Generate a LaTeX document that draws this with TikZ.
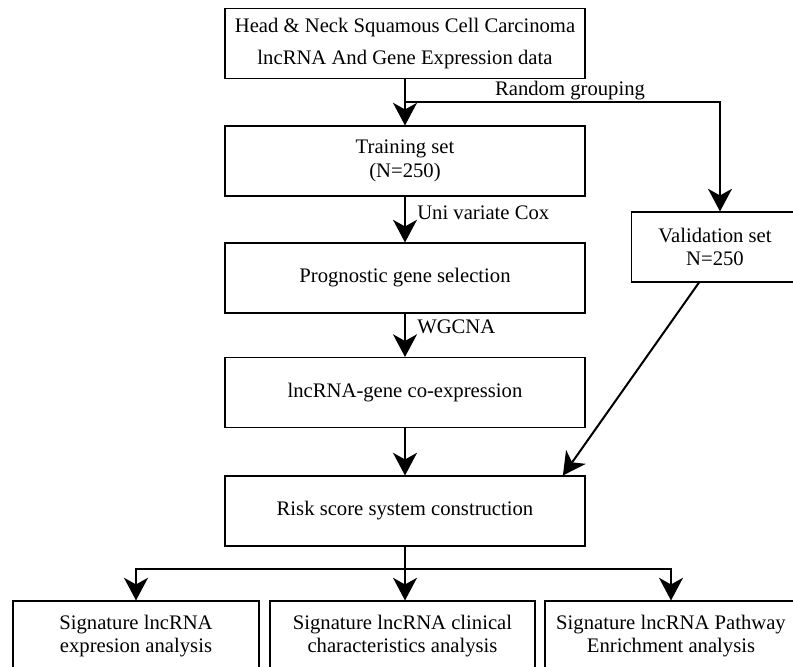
\documentclass[tikz,border=0pt]{standalone}
\usepackage{fontspec}
\setmainfont{Liberation Serif}
\usetikzlibrary{arrows.meta}

\begin{document}
\begin{tikzpicture}[x=0.75pt, y=-0.75pt,
    every node/.style={font=\fontsize{15.5}{17.5}\selectfont, align=center, inner sep=0pt},
    stage/.style={draw, line width=0.8pt, minimum width=270pt, minimum height=52.5pt},
    result/.style={draw, line width=0.8pt, minimum height=52.5pt},
    flow/.style={line width=1.5pt, -{Stealth[length=17pt, width=18pt, inset=5pt]}},
    plain/.style={line width=1.5pt}]
    \useasboundingbox (0,0) rectangle (793,667);
    \clip (0,0) rectangle (793,667);

    % Main column
    \node[stage] (data) at (405,43.5) {Head \& Neck Squamous Cell Carcinoma\\[6pt]lncRNA And Gene Expression data};
    \node[stage] (train) at (405,161) {Training set\\(N=250)};
    \node[stage] (prog) at (405,278) {Prognostic gene selection};
    \node[stage] (coexp) at (405,392.5) {lncRNA-gene co-expression};
    \node[stage] (risk) at (405,511) {Risk score system construction};

    % Validation branch
    \node[result, minimum width=125pt] (valid) at (715,247) {Validation set\\N=250};

    % Analyses of the signature
    \node[result, minimum width=184.5pt] (expr) at (136,636) {Signature lncRNA\\expresion analysis};
    \node[result, minimum width=198.75pt] (clin) at (402.5,636) {Signature lncRNA clinical\\characteristics analysis};
    \node[result, minimum width=189pt] (path) at (671,636) {Signature lncRNA Pathway\\Enrichment analysis};

    % Edge labels
    \node (grouping) at (570,91) {Random grouping};
    \node[anchor=west] (cox) at (417,213) {Uni variate Cox};
    \node[anchor=west] (wgcna) at (417,327) {WGCNA};

    % Connectors down the column
    \coordinate (split) at (405,102);
    \coordinate (turn) at (720,102);
    \draw[flow] (data) -- (train);
    \draw[flow] (split) -- (turn) -- (turn |- valid.north);
    \draw[flow] (train) -- (prog);
    \draw[flow] (prog) -- (coexp);
    \draw[flow] (coexp) -- (risk);
    \draw[flow] ([xshift=-12pt]valid.south) -- ([xshift=-17pt]risk.north east);

    % Fork to the three analyses
    \coordinate (fork) at (405,569);
    \draw[plain] (risk) -- (fork);
    \draw[flow] (fork) -| (expr.north);
    \draw[flow] (fork) -- (fork |- clin.north);
    \draw[flow] (fork) -| (path.north);
\end{tikzpicture}
\end{document}
